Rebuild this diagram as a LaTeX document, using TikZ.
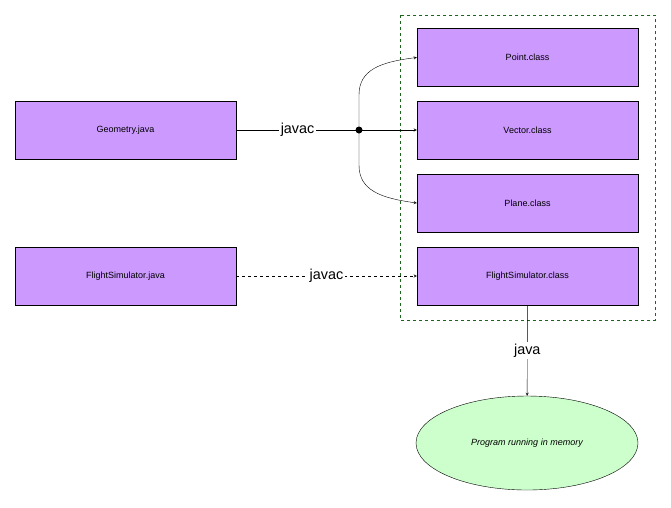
\documentclass[tikz,border=0pt]{standalone}
\usepackage{fontspec}
\setmainfont{Liberation Sans}
\usetikzlibrary{arrows,positioning,shapes.geometric}
\definecolor{mypurple}{RGB}{204,153,255}
\definecolor{mylightgreen}{RGB}{204,255,204}
\definecolor{mydashgreen}{RGB}{30,100,30}

\begin{document}
\begin{tikzpicture}[x=1pt,y=-1pt,
  filebox/.style={draw, fill=mypurple, minimum width=221pt, minimum height=58pt, font=\small},
  lbl/.style={fill=white, inner sep=2pt, font=\Large},
  >=stealth]
\useasboundingbox (0,0) rectangle (671,507);

\draw[mydashgreen, dashed] (400,15) rectangle (655,320);

\node[filebox] (geom) at (125.5,130) {Geometry.java};
\node[filebox] (flightjava) at (125.5,276) {FlightSimulator.java};
\node[filebox] (point) at (527.5,57.5) {Point.class};
\node[filebox] (vector) at (527.5,130) {Vector.class};
\node[filebox] (plane) at (527.5,203) {Plane.class};
\node[filebox] (flightclass) at (527.5,276) {FlightSimulator.class};
\node[ellipse, draw, fill=mylightgreen, minimum width=222pt, minimum height=94pt, font=\small\itshape] (prog) at (527,443) {Program running in memory};

\coordinate (split) at (359,130);
\draw (geom) -- node[lbl] {javac} (split);
\fill (split) circle (3.5pt);
\draw[->] (split) -- (vector);
\draw[->] (split) -- (359,95) .. controls (359,70) and (380,62) .. (point.west);
\draw[->] (split) -- (359,165) .. controls (359,190) and (380,198) .. (plane.west);

\draw[->, dashed] (flightjava) -- node[lbl] {javac} (flightclass);
\draw[->] (flightclass) -- node[lbl] {java} (prog);

\end{tikzpicture}
\end{document}
